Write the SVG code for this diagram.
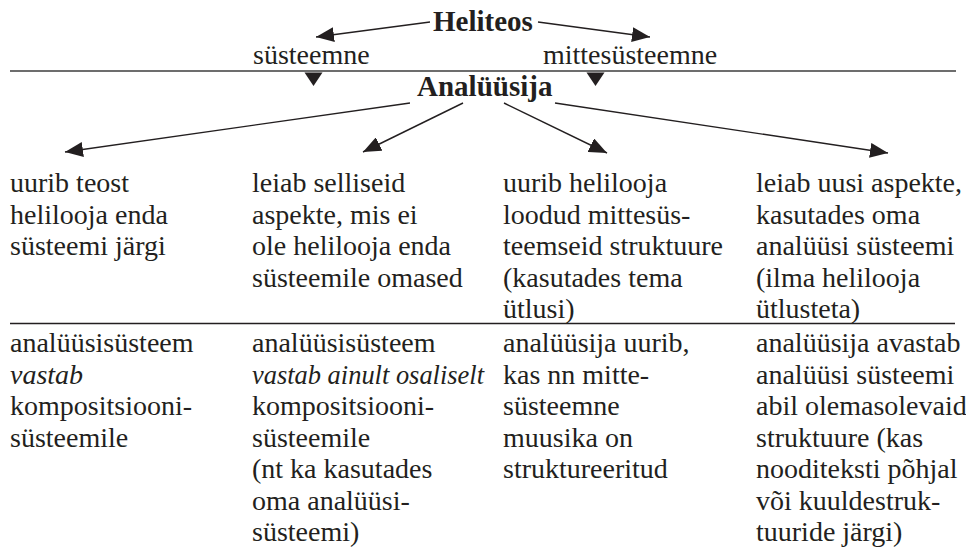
<svg xmlns="http://www.w3.org/2000/svg" width="966" height="550" viewBox="0 0 966 550">
<style>
text{font-family:'Liberation Serif','Times New Roman',serif;font-size:28px;fill:#231f20}
.b{font-weight:bold;font-size:29px}
.i{font-style:italic}
.c{stroke:#231f20;stroke-width:1.4;fill:none}
.rule{stroke:#6d6d6d;stroke-width:2}
.sep{stroke:#231f20;stroke-width:1.5}
.tri{fill:#231f20}
</style>
<defs>
<marker id="ah" viewBox="0 0 18 15" refX="18" refY="7.5" markerWidth="18" markerHeight="15" markerUnits="userSpaceOnUse" orient="auto">
<path d="M0,0 L18,7.5 L0,15 Z" fill="#231f20"/>
</marker>
</defs>
<g id="connectors">
<line class="c" x1="430" y1="22" x2="316" y2="37" marker-end="url(#ah)"/>
<line class="c" x1="538" y1="22" x2="650" y2="37" marker-end="url(#ah)"/>
<polygon class="tri" points="304.5,72.5 322.5,72.5 313.5,86"/>
<polygon class="tri" points="586.5,72.5 604.5,72.5 595.5,86"/>
<line class="c" x1="410" y1="103" x2="65" y2="152" marker-end="url(#ah)"/>
<line class="c" x1="463" y1="103" x2="363" y2="152" marker-end="url(#ah)"/>
<line class="c" x1="504" y1="103" x2="607" y2="153" marker-end="url(#ah)"/>
<line class="c" x1="555" y1="103" x2="888" y2="153" marker-end="url(#ah)"/>
</g>
<line class="rule" x1="10" y1="71" x2="956" y2="71"/>
<line class="sep" x1="10" y1="323.5" x2="955" y2="323.5"/>
<g id="heliteos"><text class="b" x="433" y="31">Heliteos</text></g>
<g id="systeemne"><text x="253" y="64">süsteemne</text></g>
<g id="mittesysteemne"><text x="543" y="64">mittesüsteemne</text></g>
<g id="analuusija"><text class="b" x="417" y="96">Analüüsija</text></g>
<g id="col1-top"><text><tspan x="10" y="192">uurib teost</tspan><tspan x="10" y="223.5">helilooja enda</tspan><tspan x="10" y="255">süsteemi järgi</tspan></text></g>
<g id="col2-top"><text><tspan x="252" y="192">leiab selliseid</tspan><tspan x="252" y="223.5">aspekte, mis ei</tspan><tspan x="252" y="255">ole helilooja enda</tspan><tspan x="252" y="286.5">süsteemile omased</tspan></text></g>
<g id="col3-top"><text><tspan x="503" y="192">uurib helilooja</tspan><tspan x="503" y="223.5">loodud mittesüs-</tspan><tspan x="503" y="255">teemseid struktuure</tspan><tspan x="503" y="286.5">(kasutades tema</tspan><tspan x="503" y="318">ütlusi)</tspan></text></g>
<g id="col4-top"><text><tspan x="756" y="192">leiab uusi aspekte,</tspan><tspan x="756" y="223.5">kasutades oma</tspan><tspan x="756" y="255">analüüsi süsteemi</tspan><tspan x="756" y="286.5">(ilma helilooja</tspan><tspan x="756" y="318">ütlusteta)</tspan></text></g>
<g id="col1-bottom"><text><tspan x="10" y="352">analüüsisüsteem</tspan><tspan class="i" x="10" y="383.5">vastab</tspan><tspan x="10" y="415">kompositsiooni-</tspan><tspan x="10" y="446.5">süsteemile</tspan></text></g>
<g id="col2-bottom"><text><tspan x="252" y="352">analüüsisüsteem</tspan><tspan class="i" x="252" y="383.5" textLength="232" lengthAdjust="spacingAndGlyphs">vastab ainult osaliselt</tspan><tspan x="252" y="415">kompositsiooni-</tspan><tspan x="252" y="446.5">süsteemile</tspan><tspan x="252" y="478">(nt ka kasutades</tspan><tspan x="252" y="509.5">oma analüüsi-</tspan><tspan x="252" y="541">süsteemi)</tspan></text></g>
<g id="col3-bottom"><text><tspan x="503" y="352">analüüsija uurib,</tspan><tspan x="503" y="383.5">kas nn mitte-</tspan><tspan x="503" y="415">süsteemne</tspan><tspan x="503" y="446.5">muusika on</tspan><tspan x="503" y="478">struktureeritud</tspan></text></g>
<g id="col4-bottom"><text><tspan x="756" y="352">analüüsija avastab</tspan><tspan x="756" y="383.5">analüüsi süsteemi</tspan><tspan x="756" y="415">abil olemasolevaid</tspan><tspan x="756" y="446.5">struktuure (kas</tspan><tspan x="756" y="478">nooditeksti põhjal</tspan><tspan x="756" y="509.5">või kuuldestruk-</tspan><tspan x="756" y="541">tuuride järgi)</tspan></text></g>
</svg>
